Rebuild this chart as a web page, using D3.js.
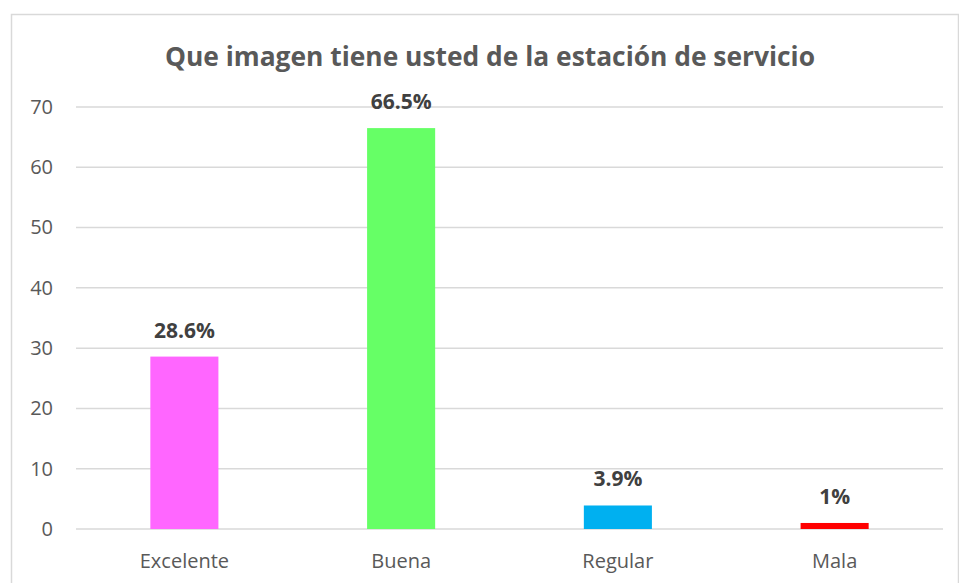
<!DOCTYPE html>
<html>
<head>
<meta charset="utf-8">
<script src="https://cdn.jsdelivr.net/npm/d3@7"></script>
<style>
  body { margin: 0; background: #fff; }
  text { font-family: "Open Sans", "Noto Sans", sans-serif; }
</style>
</head>
<body>
<div id="chart"></div>
<script>
const categories = ["Excelente", "Buena", "Regular", "Mala"];
const values = [28.6, 66.5, 3.9, 1];
const valueLabels = ["28.6%", "66.5%", "3.9%", "1%"];
const barColors = ["#FF66FF", "#66FF66", "#00B0F0", "#FF0000"];
const yTicks = [0, 10, 20, 30, 40, 50, 60, 70];
const title = "Que imagen tiene usted de la estación de servicio";

const w = 959, h = 583;
const plot = { left: 76, right: 943, top: 107, bottom: 529 };

const svg = d3.select("#chart").append("svg")
    .attr("width", w)
    .attr("height", h);

// marco del grafico
svg.append("rect")
    .attr("x", 11.5)
    .attr("y", 14.5)
    .attr("width", 947)
    .attr("height", 600)
    .attr("fill", "#fff")
    .attr("stroke", "#D9D9D9")
    .attr("stroke-width", 1.5);

const x = d3.scaleBand()
    .domain(categories)
    .range([plot.left, plot.right])
    .paddingInner(0.686)
    .paddingOuter(0.343);

const y = d3.scaleLinear()
    .domain([0, 70])
    .range([plot.bottom, plot.top]);

// lineas de cuadricula
svg.append("g")
    .selectAll("line")
    .data(yTicks)
    .join("line")
    .attr("x1", plot.left)
    .attr("x2", plot.right)
    .attr("y1", d => y(d))
    .attr("y2", d => y(d))
    .attr("stroke", "#D9D9D9")
    .attr("stroke-width", 1.5);

// eje y
const yAxis = svg.append("g")
    .attr("transform", "translate(53,0)")
    .call(d3.axisLeft(y).tickValues(yTicks).tickSize(0).tickPadding(0));
yAxis.select(".domain").remove();
yAxis.selectAll("text")
    .style("font-family", "'Open Sans', sans-serif")
    .style("font-size", "20px")
    .attr("fill", "#595959");

// barras
svg.append("g")
    .selectAll("rect")
    .data(values)
    .join("rect")
    .attr("x", (d, i) => x(categories[i]))
    .attr("y", d => y(d))
    .attr("width", x.bandwidth())
    .attr("height", d => y(0) - y(d))
    .attr("fill", (d, i) => barColors[i]);

// etiquetas de valor
svg.append("g")
    .selectAll("text")
    .data(values)
    .join("text")
    .attr("x", (d, i) => x(categories[i]) + x.bandwidth() / 2)
    .attr("y", d => y(d) - 19)
    .attr("text-anchor", "middle")
    .style("font-size", "21px")
    .style("font-weight", "bold")
    .attr("fill", "#404040")
    .text((d, i) => valueLabels[i]);

// eje x
const xAxis = svg.append("g")
    .attr("transform", "translate(0," + plot.bottom + ")")
    .call(d3.axisBottom(x).tickSize(0).tickPadding(0));
xAxis.select(".domain").remove();
xAxis.selectAll("text")
    .attr("dy", null)
    .attr("y", 39)
    .style("font-family", "'Open Sans', sans-serif")
    .style("font-size", "20px")
    .attr("fill", "#595959");

// titulo
svg.append("text")
    .attr("x", 490)
    .attr("y", 66)
    .attr("text-anchor", "middle")
    .attr("textLength", 650)
    .attr("lengthAdjust", "spacingAndGlyphs")
    .style("font-size", "26px")
    .style("font-weight", "bold")
    .attr("fill", "#595959")
    .text(title);
</script>
</body>
</html>
